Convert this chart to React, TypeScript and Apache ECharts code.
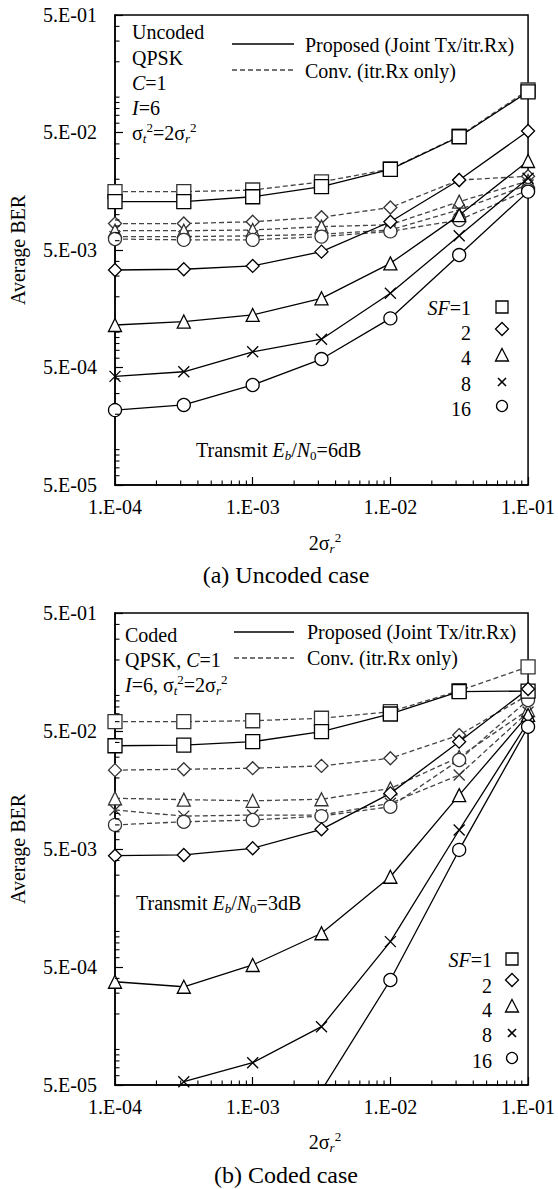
import React, { useEffect, useRef } from 'react';
import * as echarts from 'echarts';

const FF = "'Liberation Serif', 'Times New Roman', serif";

// x values: 2σr²
const X = [1e-4, 3.16e-4, 1e-3, 3.16e-3, 1e-2, 3.16e-2, 1e-1];
const SF_LABELS = ['1', '2', '4', '8', '16'];

// (a) Uncoded case – Proposed (Joint Tx/itr.Rx)
const propA_SF1 = [0.0129, 0.0129, 0.0142, 0.0173, 0.0243, 0.046, 0.111];
const propA_SF2 = [0.00338, 0.00343, 0.00366, 0.00484, 0.0087, 0.0197, 0.0515];
const propA_SF4 = [0.00115, 0.00123, 0.0014, 0.00194, 0.00385, 0.0099, 0.0286];
const propA_SF8 = [0.00042, 0.00046, 0.00068, 0.00087, 0.00214, 0.0066, 0.0204];
const propA_SF16 = [0.000217, 0.00024, 0.000355, 0.00059, 0.00131, 0.00453, 0.0157];
// (a) Uncoded case – Conv. (itr.Rx only)
const convA_SF1 = [0.0157, 0.0157, 0.0162, 0.019, 0.0245, 0.0465, 0.115];
const convA_SF2 = [0.0084, 0.0084, 0.0087, 0.0095, 0.0115, 0.0197, 0.0212];
const convA_SF4 = [0.0073, 0.0073, 0.0074, 0.0079, 0.0082, 0.0129, 0.0193];
const convA_SF8 = [0.0065, 0.0065, 0.0066, 0.0068, 0.0074, 0.011, 0.0179];
const convA_SF16 = [0.0062, 0.0061, 0.0061, 0.0065, 0.0072, 0.009, 0.0162];

// (b) Coded case – Proposed
const propB_SF1 = [0.0375, 0.038, 0.0406, 0.0493, 0.0697, 0.1077, 0.109];
const propB_SF2 = [0.00439, 0.00445, 0.00507, 0.00734, 0.0148, 0.0406, 0.1135];
const propB_SF4 = [0.000375, 0.00034, 0.00052, 0.000966, 0.00291, 0.0143, 0.0684];
const propB_SF8 = [null, 5.33e-5, 7.73e-5, 0.000156, 0.00082, 0.00724, 0.0596];
const propB_SF16 = [null, null, null, 4.5e-5, 0.000388, 0.00491, 0.0543];
// (b) Coded case – Conv.
const convB_SF1 = [0.06, 0.06, 0.0611, 0.0641, 0.0729, 0.1097, 0.175];
const convB_SF2 = [0.0233, 0.0237, 0.0242, 0.0253, 0.0294, 0.0462, 0.101];
const convB_SF4 = [0.01345, 0.0131, 0.0128, 0.0132, 0.0163, 0.0301, 0.0753];
const convB_SF8 = [0.0107, 0.0095, 0.0097, 0.0097, 0.0122, 0.0212, 0.0724];
const convB_SF16 = [0.008, 0.0085, 0.0088, 0.0095, 0.0114, 0.0284, 0.0916];

// axis ranges / tick helpers
const X_MIN = 1e-4, X_MAX = 0.1;
const Y_MIN = 5e-5, Y_MAX = 0.5;
const MINOR_MULTS = [1, 2, 3, 4, 6, 7, 8, 9];
const X_MINOR_MULTS = [2, 3, 4, 5, 6, 7, 8, 9];
const Y_DECADES = [1e-5, 1e-4, 1e-3, 1e-2, 1e-1];
const X_DECADES = [1e-4, 1e-3, 1e-2];

const SYMBOLS = [
  { symbol: 'rect', size: 14 },
  { symbol: 'diamond', size: 13 },
  { symbol: 'triangle', size: 13 },
  { symbol: 'path://M0,0L10,10M10,0L0,10', size: 11 },
  { symbol: 'circle', size: 13 },
];

const pad2 = (n: number) => (n < 10 ? '0' + n : String(n));
const fmtX = (v: number) => {
  const e = Math.round(Math.log10(v));
  return '1.E' + (e < 0 ? '-' : '+') + pad2(Math.abs(e));
};
const fmtY = (v: number) => {
  const e = Math.round(Math.log10(v / 5));
  return '5.E' + (e < 0 ? '-' : '+') + pad2(Math.abs(e));
};

const rich: any = {
  n: { fontFamily: FF, fontSize: 20, lineHeight: 24, verticalAlign: 'middle', fill: '#000' },
  it: { fontFamily: FF, fontSize: 20, fontStyle: 'italic', lineHeight: 24, verticalAlign: 'middle', fill: '#000' },
  sub: { fontFamily: FF, fontSize: 13, lineHeight: 14, verticalAlign: 'bottom', fill: '#000' },
  subi: { fontFamily: FF, fontSize: 13, fontStyle: 'italic', lineHeight: 14, verticalAlign: 'bottom', fill: '#000' },
  sup: { fontFamily: FF, fontSize: 13, lineHeight: 14, verticalAlign: 'top', fill: '#000' },
  cap: { fontFamily: FF, fontSize: 24, lineHeight: 28, verticalAlign: 'middle', fill: '#000' },
};

function txt(x: number, y: number, text: string, align = 'left', extra: any = {}) {
  return {
    type: 'text', x, y, silent: true, ...extra,
    style: {
      text, rich, fontFamily: FF, fontSize: 20, fill: '#000',
      align, verticalAlign: 'middle', textAlign: align, textVerticalAlign: 'middle',
    },
  };
}

const MS = { fill: '#fff', stroke: '#000', lineWidth: 1.3 };
function marker(kind: number, cx: number, cy: number) {
  if (kind === 0) return { type: 'rect', silent: true, shape: { x: cx - 6, y: cy - 6, width: 12, height: 12 }, style: MS };
  if (kind === 1) return { type: 'polygon', silent: true, shape: { points: [[cx, cy - 6.5], [cx + 6.5, cy], [cx, cy + 6.5], [cx - 6.5, cy]] }, style: MS };
  if (kind === 2) return { type: 'polygon', silent: true, shape: { points: [[cx, cy - 6.5], [cx + 6.5, cy + 6], [cx - 6.5, cy + 6]] }, style: MS };
  if (kind === 3) return { type: 'group', silent: true, children: [
    { type: 'line', shape: { x1: cx - 4, y1: cy - 4, x2: cx + 4, y2: cy + 4 }, style: { stroke: '#000', lineWidth: 1.6 } },
    { type: 'line', shape: { x1: cx + 4, y1: cy - 4, x2: cx - 4, y2: cy + 4 }, style: { stroke: '#000', lineWidth: 1.6 } },
  ] };
  return { type: 'circle', silent: true, shape: { cx, cy, r: 5.5 }, style: MS };
}

function mkSeries(vals: (number | null)[], k: number, dashed: boolean, gi: number) {
  const s = SYMBOLS[k];
  return {
    type: 'line',
    xAxisIndex: gi, yAxisIndex: gi,
    data: X.map((x, i) => [x, vals[i] == null ? '-' : vals[i]]),
    symbol: s.symbol, symbolSize: s.size, showSymbol: true, showAllSymbol: true,
    symbolKeepAspect: true,
    lineStyle: { color: dashed ? '#444' : '#000', width: 1.3, type: dashed ? [5, 3] : 'solid' },
    itemStyle: { color: '#fff', borderColor: dashed ? '#333' : '#000', borderWidth: 1.3 },
    z: dashed ? 2 : 3, silent: true, clip: true,
  };
}

function minorTickData() {
  const out: any[] = [];
  Y_DECADES.forEach((d) => MINOR_MULTS.forEach((m) => {
    const v = d * m;
    if (v > Y_MIN * 1.0001 && v < Y_MAX * 0.9999) out.push([X_MIN, v, 0]);
  }));
  X_DECADES.forEach((d) => X_MINOR_MULTS.forEach((m) => out.push([d * m, Y_MIN, 1])));
  return out;
}

function minorSeries(gi: number) {
  return {
    type: 'custom', xAxisIndex: gi, yAxisIndex: gi, silent: true, clip: false, z: 5,
    data: minorTickData(), encode: { x: 0, y: 1 },
    renderItem: (params: any, api: any) => {
      const p = api.coord([api.value(0), api.value(1)]);
      const kind = api.value(2);
      const shape = kind === 0
        ? { x1: p[0], y1: p[1], x2: p[0] + 4.5, y2: p[1] }
        : { x1: p[0], y1: p[1], x2: p[0], y2: p[1] - 4.5 };
      return { type: 'line', shape, style: { stroke: '#000', lineWidth: 1.1 } };
    },
  };
}

function axisCommon() {
  return {
    axisLine: { show: true, onZero: false, lineStyle: { color: '#000', width: 1.5 } },
    axisTick: { show: true, inside: true, length: 8, lineStyle: { color: '#000', width: 1.2 } },
    splitLine: { show: false },
    minorTick: { show: false },
  };
}

export default function App() {
  const ref = useRef<HTMLDivElement>(null);
  useEffect(() => {
    if (!ref.current) return;
    const chart = echarts.init(ref.current, undefined, { renderer: 'svg' });
    const grids = [
      { left: 115, top: 15, width: 416, height: 470 },
      { left: 115, top: 613, width: 416, height: 472 },
    ];
    const xAxes = [0, 1].map((gi) => ({
      type: 'log', logBase: 10, gridIndex: gi, min: X_MIN, max: X_MAX, interval: 1,
      ...axisCommon(),
      axisLabel: { color: '#000', fontFamily: FF, fontSize: 20, margin: 12, formatter: fmtX, showMinLabel: true, showMaxLabel: true },
    }));
    const yAxes = [0, 1].map((gi) => ({
      type: 'log', logBase: 10, gridIndex: gi, min: Y_MIN, max: Y_MAX, interval: 1,
      ...axisCommon(),
      axisLabel: { color: '#000', fontFamily: FF, fontSize: 20, margin: 18, formatter: fmtY, showMinLabel: true, showMaxLabel: true },
    }));
    const convA = [convA_SF1, convA_SF2, convA_SF4, convA_SF8, convA_SF16];
    const propA = [propA_SF1, propA_SF2, propA_SF4, propA_SF8, propA_SF16];
    const convB = [convB_SF1, convB_SF2, convB_SF4, convB_SF8, convB_SF16];
    const propB = [propB_SF1, propB_SF2, propB_SF4, propB_SF8, propB_SF16];
    const series: any[] = [];
    convA.forEach((v, k) => series.push(mkSeries(v, k, true, 0)));
    propA.forEach((v, k) => series.push(mkSeries(v, k, false, 0)));
    convB.forEach((v, k) => series.push(mkSeries(v, k, true, 1)));
    propB.forEach((v, k) => series.push(mkSeries(v, k, false, 1)));
    series.push(minorSeries(0));
    series.push(minorSeries(1));

    const sigmaT = '{n|σ}{subi|t}{sup|2}{n|=2σ}{subi|r}{sup|2}';
    const graphic: any[] = [
      // Panel (a)
      txt(132, 32, '{n|Uncoded}'),
      txt(132, 58, '{n|QPSK}'),
      txt(132, 83, '{it|C}{n|=1}'),
      txt(132, 108, '{it|I}{n|=6}'),
      txt(132, 133, sigmaT),
      { type: 'line', silent: true, shape: { x1: 232, y1: 44, x2: 294, y2: 44 }, style: { stroke: '#000', lineWidth: 1.3 } },
      { type: 'line', silent: true, shape: { x1: 232, y1: 70, x2: 294, y2: 70 }, style: { stroke: '#444', lineWidth: 1.3, lineDash: [5, 3] } },
      txt(305, 45, '{n|Proposed (Joint Tx/itr.Rx)}'),
      txt(305, 71, '{n|Conv. (itr.Rx only)}'),
      txt(471, 308, '{it|SF}{n|=' + SF_LABELS[0] + '}', 'right'),
      txt(471, 333, '{n|' + SF_LABELS[1] + '}', 'right'),
      txt(471, 358, '{n|' + SF_LABELS[2] + '}', 'right'),
      txt(471, 384, '{n|' + SF_LABELS[3] + '}', 'right'),
      txt(471, 409, '{n|' + SF_LABELS[4] + '}', 'right'),
      marker(0, 502, 307), marker(1, 502, 329), marker(2, 502, 355), marker(3, 502, 382), marker(4, 502, 406),
      txt(196, 450, '{n|Transmit }{it|E}{subi|b}{n|/}{it|N}{sub|0}{n|=6dB}'),
      txt(18, 250, '{n|Average BER}', 'center', { rotation: Math.PI / 2 }),
      txt(325, 543, '{n|2σ}{subi|r}{sup|2}', 'center'),
      txt(286, 575, '{cap|(a) Uncoded case}', 'center'),
      // Panel (b)
      txt(125, 635, '{n|Coded}'),
      txt(125, 660, '{n|QPSK, }{it|C}{n|=1}'),
      txt(125, 685, '{it|I}{n|=6, }' + sigmaT),
      { type: 'line', silent: true, shape: { x1: 234, y1: 632, x2: 294, y2: 632 }, style: { stroke: '#000', lineWidth: 1.3 } },
      { type: 'line', silent: true, shape: { x1: 234, y1: 658, x2: 294, y2: 658 }, style: { stroke: '#444', lineWidth: 1.3, lineDash: [5, 3] } },
      txt(307, 632, '{n|Proposed (Joint Tx/itr.Rx)}'),
      txt(307, 658, '{n|Conv. (itr.Rx only)}'),
      txt(492, 960, '{it|SF}{n|=' + SF_LABELS[0] + '}', 'right'),
      txt(492, 986, '{n|' + SF_LABELS[1] + '}', 'right'),
      txt(492, 1010, '{n|' + SF_LABELS[2] + '}', 'right'),
      txt(492, 1035, '{n|' + SF_LABELS[3] + '}', 'right'),
      txt(492, 1061, '{n|' + SF_LABELS[4] + '}', 'right'),
      marker(0, 512, 959), marker(1, 512, 980), marker(2, 512, 1006), marker(3, 512, 1033), marker(4, 512, 1058),
      txt(136, 903, '{n|Transmit }{it|E}{subi|b}{n|/}{it|N}{sub|0}{n|=3dB}'),
      txt(18, 849, '{n|Average BER}', 'center', { rotation: Math.PI / 2 }),
      txt(325, 1142, '{n|2σ}{subi|r}{sup|2}', 'center'),
      txt(286, 1175, '{cap|(b) Coded case}', 'center'),
    ];

    chart.setOption({
      animation: false,
      backgroundColor: '#fff',
      grid: grids.map((g) => ({ ...g, show: true, borderColor: '#000', borderWidth: 1.5, backgroundColor: 'transparent' })),
      xAxis: xAxes,
      yAxis: yAxes,
      series,
      graphic,
    });
    return () => chart.dispose();
  }, []);
  return (
    <div
      ref={ref}
      style={{ position: 'absolute', left: 0, top: 0, width: 558, height: 1189, background: '#fff' }}
    />
  );
}
